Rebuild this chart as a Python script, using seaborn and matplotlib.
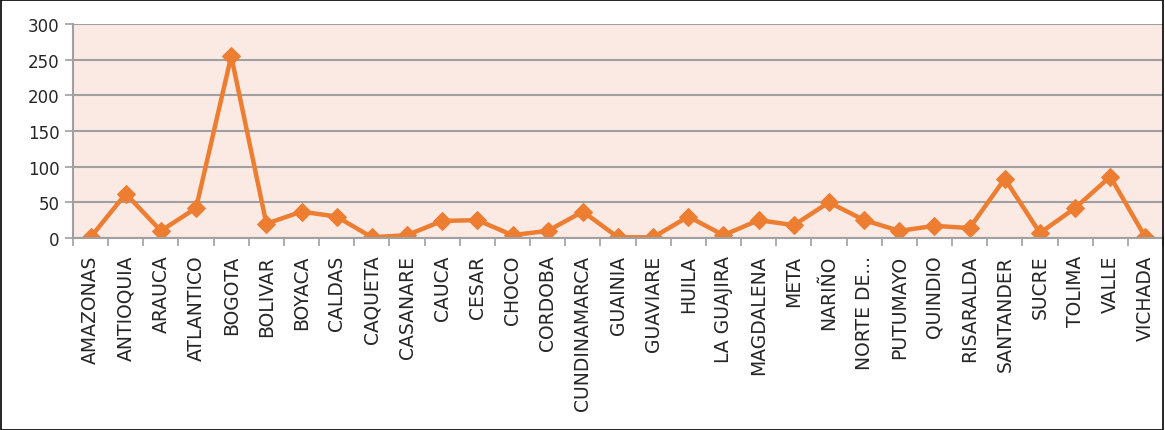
import numpy as np
import pandas as pd
import seaborn as sns
import matplotlib.pyplot as plt
from matplotlib.patches import Rectangle

departamentos = ['AMAZONAS', 'ANTIOQUIA', 'ARAUCA', 'ATLANTICO', 'BOGOTA', 'BOLIVAR',
                 'BOYACA', 'CALDAS', 'CAQUETA', 'CASANARE', 'CAUCA', 'CESAR', 'CHOCO',
                 'CORDOBA', 'CUNDINAMARCA', 'GUAINIA', 'GUAVIARE', 'HUILA', 'LA GUAJIRA',
                 'MAGDALENA', 'META', 'NARIÑO', 'NORTE DE...', 'PUTUMAYO', 'QUINDIO',
                 'RISARALDA', 'SANTANDER', 'SUCRE', 'TOLIMA', 'VALLE', 'VICHADA']
valores = [1, 62, 10, 42, 255, 20, 37, 30, 1, 4, 24, 25, 4, 10, 37, 1, 1, 30, 4,
           25, 18, 50, 25, 10, 17, 14, 83, 7, 42, 86, 1]
y_ticks = [0, 50, 100, 150, 200, 250, 300]

df = pd.DataFrame({'depto': departamentos, 'valor': valores})

sns.set_style('white')
plt.rcParams['font.family'] = ['DejaVu Sans']

fig = plt.figure(figsize=(11.65, 4.31), dpi=100)
ax = fig.add_axes([73 / 1165, 1 - 239 / 431, (1163 - 73) / 1165, (239 - 25) / 431])
ax.set_facecolor('#FBE9E4')

sns.lineplot(data=df, x='depto', y='valor', sort=False, ax=ax, color='#ED7D31',
             linewidth=3.2, marker='D', markersize=9, markeredgecolor='#ED7D31')

ax.set_ylim(0, 300)
ax.set_xlim(-0.5, len(departamentos) - 0.5)
ax.set_yticks(y_ticks)
ax.yaxis.grid(True, color='#A0A0A0', linewidth=1.5)
ax.set_axisbelow(True)

ax.set_xticks(range(len(departamentos)))
ax.set_xticklabels(departamentos, rotation=90, fontsize=13.5, va='top')
ax.set_xticks(np.arange(-0.5, len(departamentos), 1), minor=True)
ax.tick_params(axis='x', which='major', bottom=False, length=0, pad=12)
ax.tick_params(axis='x', which='minor', bottom=True, length=6, color='#A0A0A0',
               width=1.2, direction='out')
ax.tick_params(axis='y', left=True, length=6, color='#A0A0A0', width=1.2,
               direction='out', labelsize=12)

for s in ['top', 'right']:
    ax.spines[s].set_visible(False)
for s in ['left', 'bottom']:
    ax.spines[s].set_color('#A0A0A0')
    ax.spines[s].set_linewidth(1.5)

ax.set_xlabel('')
ax.set_ylabel('')

fig.add_artist(Rectangle((0.001, 0.001), 0.997, 0.997, transform=fig.transFigure,
                         fill=False, edgecolor='black', linewidth=1.2))

fig.savefig('out.png', dpi=100)
